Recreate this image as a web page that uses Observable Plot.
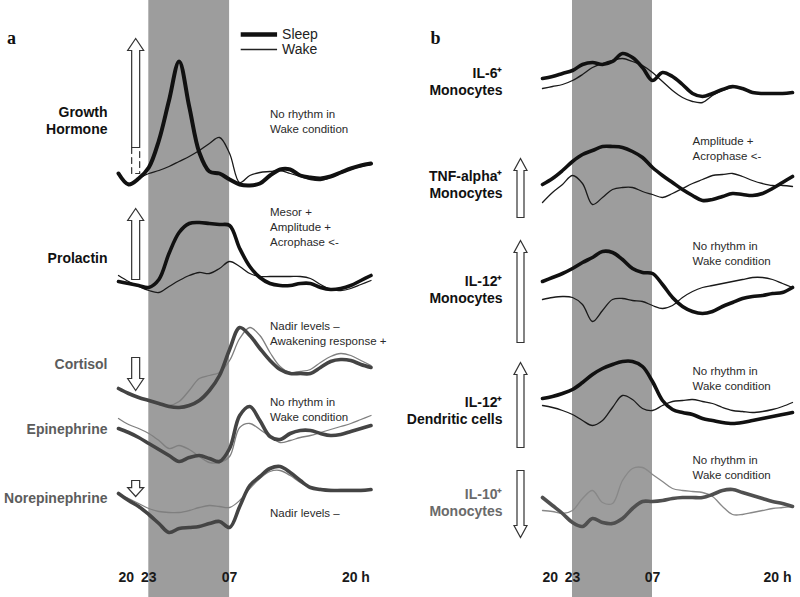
<!DOCTYPE html>
<html><head><meta charset="utf-8">
<script src="https://cdn.jsdelivr.net/npm/d3@7"></script>
<script src="https://cdn.jsdelivr.net/npm/@observablehq/plot@0.6"></script>
<style>
html,body{margin:0;padding:0;background:#fff;}
#wrap{display:flex;width:800px;height:597px;overflow:hidden;}
</style></head><body><div id="wrap"></div>
<script>
// ---- time axis ----
const hours = [20,21,22,23,24,25,26,27,28,29,30,31,32,33,34,35,36,37,38,39,40,41,42,43,44,45];
const tickHours = [20, 23, 31, 44];
const tickLabels = ["20", "23", "07", "20 h"];
const sleepStart = 23, sleepEnd = 31;

// ---- panel a series (arbitrary units above each row's baseline) ----
const ghSleep  = [13, 2, 8, 19, 46, 86, 125, 80, 34, 15, 13, 7, 2, 1, 3, 11, 17, 17, 11, 9, 8, 10, 14, 18, 21, 23];
const ghWake   = [13, 3, 8, 13, 16, 20, 25, 30, 36, 43, 49, 33, 4, 11, 14, 15, 16, 13, 10, 7, 6, 9, 13, 17, 20, 22];
const prlSleep = [13, 11, 9, 7, 15, 41, 62, 71, 72, 71, 70, 69, 46, 28, 17, 11, 9, 9, 11, 11, 7, 5, 6, 9, 14, 19];
const prlWake  = [19, 13, 8, 4, 2, 8, 14, 19, 22, 21, 26, 33, 28, 21, 18, 18, 18, 18, 18, 16, 10, 5, 4, 6, 10, 14];
const cortSleep= [20, 15, 11, 8, 5, 2, 1, 3, 8, 18, 33, 59, 81, 73, 60, 48, 39, 35, 35, 35, 41, 47, 49, 48, 44, 41];
const cortWake = [20, 15, 11, 8, 5, 3, 7, 18, 30, 33, 36, 48, 70, 81, 73, 56, 42, 36, 37, 39, 46, 52, 55, 53, 48, 43];
const epiSleep = [38, 34, 29, 23, 17, 11, 5, 9, 11, 8, 5, 18, 51, 60, 46, 30, 27, 33, 36, 36, 33, 31, 32, 35, 38, 41];
const epiWake  = [48, 42, 38, 33, 26, 18, 21, 17, 10, 4, 4, 10, 39, 43, 37, 30, 24, 26, 29, 31, 34, 37, 40, 43, 47, 51];
const norSleep = [39, 32, 26, 18, 9, 0, 4, 5, 6, 9, 11, 5, 26, 47, 56, 64, 66, 60, 52, 45, 43, 42, 42, 42, 42, 43];
const norWake  = [39, 34, 29, 24, 21, 20, 20, 22, 25, 27, 26, 25, 32, 44, 54, 61, 62, 57, 50, 45, 44, 43, 43, 43, 43, 43];

// ---- panel b series ----
const il6Sleep  = [25, 27, 30, 33, 39, 41, 39, 42, 50, 46, 36, 23, 31, 27, 19, 10, 7, 10, 14, 17, 15, 11, 10, 10, 10, 11];
const il6Wake   = [15, 17, 19, 23, 29, 36, 40, 43, 45, 42, 38, 31, 22, 13, 6, 2, 1, 8, 13, 16, 15, 11, 10, 10, 10, 11];
const tnfSleep  = [21, 27, 35, 44, 51, 55, 59, 59, 58, 54, 48, 38, 30, 23, 16, 10, 5, 6, 9, 12, 11, 10, 12, 17, 23, 29];
const tnfWake   = [3, 13, 21, 30, 22, 1, 8, 16, 18, 18, 14, 11, 8, 12, 17, 22, 26, 30, 31, 32, 29, 25, 22, 20, 20, 19];
const il12mSleep= [42, 46, 50, 55, 61, 66, 72, 71, 64, 55, 51, 50, 39, 26, 17, 12, 10, 12, 17, 21, 25, 27, 28, 30, 31, 36];
const il12mWake = [24, 26, 27, 26, 19, 2, 13, 24, 25, 23, 22, 18, 15, 18, 26, 32, 36, 38, 40, 42, 44, 46, 46, 44, 40, 36];
const il12dSleep= [27, 29, 32, 36, 43, 51, 57, 61, 64, 64, 59, 44, 25, 16, 13, 11, 7, 5, 3, 2, 3, 5, 7, 9, 11, 13];
const il12dWake = [20, 18, 15, 11, 5, 0, 5, 18, 30, 26, 17, 15, 20, 24, 25, 26, 24, 22, 18, 15, 14, 13, 14, 16, 19, 23];
const il10Sleep = [30, 22, 14, 5, 1, 9, 5, 4, 9, 19, 26, 26, 27, 29, 30, 30, 30, 33, 37, 38, 35, 32, 29, 26, 24, 21];
const il10Wake  = [17, 16, 14, 17, 29, 37, 25, 24, 47, 59, 60, 53, 46, 39, 37, 36, 35, 31, 21, 13, 13, 15, 17, 19, 20, 21];

// ---- labels & notes ----
const labelsA = ["Growth\nHormone", "Prolactin", "Cortisol", "Epinephrine", "Norepinephrine"];
const notesA  = ["No rhythm in\nWake condition", "Mesor +\nAmplitude +\nAcrophase <-", "Nadir levels \u2013\nAwakening response +", "No rhythm in\nWake condition", "Nadir levels \u2013"];
const labelsB = ["IL-6\u207A\nMonocytes", "TNF-alpha\u207A\nMonocytes", "IL-12\u207A\nMonocytes", "IL-12\u207A\nDendritic cells", "IL-10\u207A\nMonocytes"];
const notesB  = ["", "Amplitude +\nAcrophase <-", "No rhythm in\nWake condition", "No rhythm in\nWake condition", "No rhythm in\nWake condition"];
const arrowDirA = ["up", "up", "down", null, "down"];
const arrowDirB = [null, "up", "up", "up", "down"];
const legendKeys = ["Sleep", "Wake"];
const panelLetters = ["a", "b"];

// ---- layout (row placement in y units, arrow extents) ----
const rowBaseA = [411, 303, 189, 131, 65];
const rowBaseB = [494, 392, 274, 172, 70];
const labelLevelA = [477.5, 340, 234, 169, 100];
const labelLevelB = [516, 413.5, 308.5, 187.5, 95];
const noteLevelA = [476.5, 371, 264.5, 189, 85];
const noteLevelB = [0, 450, 345, 219.5, 130.5];
const arrowLevelA = [450, 318, 240, 0, 117];
const arrowLenA   = [109, 71, 33, 0, 16];
const arrowLevelB = [0, 380, 255, 150, 127];
const arrowLenB   = [0, 59, 102, 85, 67];

// ---- styles ----
const BAND = "#9d9d9d";
const FONT = "'Liberation Sans', Arial, Helvetica, sans-serif";
const sleepColA = ["#111", "#111", "#444", "#444", "#444"];
const wakeColA  = ["#1a1a1a", "#1a1a1a", "#7f7f7f", "#7f7f7f", "#7f7f7f"];
const labelColA = ["#111", "#111", "#5c5c5c", "#5c5c5c", "#5c5c5c"];
const sleepColB = ["#111", "#111", "#111", "#111", "#505050"];
const wakeColB  = ["#1a1a1a", "#1a1a1a", "#1a1a1a", "#1a1a1a", "#888"];
const labelColB = ["#111", "#111", "#111", "#111", "#6a6a6a"];

function hollowArrow(w, hw, hlMax) {
  return {draw(ctx, l) {
    const hl = Math.min(hlMax, l * 0.55);
    ctx.moveTo(-w, 0);
    ctx.lineTo(-w, -(l - hl));
    ctx.lineTo(-hw, -(l - hl));
    ctx.lineTo(0, -l);
    ctx.lineTo(hw, -(l - hl));
    ctx.lineTo(w, -(l - hl));
    ctx.lineTo(w, 0);
    ctx.closePath();
  }};
}
const openShaft = (w) => ({draw(ctx, l) {
  ctx.moveTo(-w, -l); ctx.lineTo(-w, 0); ctx.lineTo(w, 0); ctx.lineTo(w, -l);
}});

function panel(cfg) {
  const marks = [];
  marks.push(Plot.rect([{x1: sleepStart, x2: sleepEnd}], {x1: "x1", x2: "x2", fill: BAND}));
  cfg.rows.forEach((r, i) => {
    const pts = vals => hours.map((h, j) => ({hour: h, level: r.base + vals[j]}));
    marks.push(Plot.line(pts(r.wake), {x: "hour", y: "level", stroke: r.wakeColor, strokeWidth: 1.3, curve: "catmull-rom"}));
    marks.push(Plot.line(pts(r.sleep), {x: "hour", y: "level", stroke: r.sleepColor, strokeWidth: r.sleepWidth, curve: "catmull-rom", strokeLinejoin: "round"}));
    marks.push(Plot.text([r], {x: () => hours[0], y: "labelLevel", text: "label", textAnchor: "end", lineAnchor: "middle",
      dx: cfg.labelDx, fontSize: 14, fontWeight: "bold", lineHeight: 1.2, fill: r.labelColor}));
    if (r.note) marks.push(Plot.text([r], {x: () => 35, y: "noteLevel", text: "note", textAnchor: "start", lineAnchor: "middle",
      fontSize: 11.5, lineHeight: 1.3, fill: "#2a2a2a"}));
  });
  // arrows
  const arrows = cfg.rows.filter(r => r.dir).map(r => ({hour: cfg.arrowHour, level: r.arrowLevel, len: r.arrowLen, dir: r.dir}));
  marks.push(Plot.vector(arrows, {x: "hour", y: "level", length: "len", rotate: d => d.dir === "up" ? 0 : 180, anchor: "start",
    shape: cfg.arrowShape, fill: "white", stroke: "#333", strokeWidth: 1.2, strokeLinejoin: "miter", strokeLinecap: "butt"}));
  if (cfg.shaft) marks.push(Plot.vector([cfg.shaft], {x: "hour", y: "level", length: "len", anchor: "start",
    shape: openShaft(4), stroke: "#333", strokeWidth: 1.2, strokeDasharray: "6,4", fill: "none"}));
  // ticks
  const ticks = tickHours.map((h, i) => ({hour: h, label: tickLabels[i], i}));
  const tickStyle = {x: "hour", text: "label", frameAnchor: "bottom", dy: -20, lineAnchor: "middle", fontSize: 14, fontWeight: "bold", fill: "#1a1a1a"};
  marks.push(Plot.text(ticks.filter(d => d.i === 0), {...tickStyle, textAnchor: "start"}));
  marks.push(Plot.text(ticks.filter(d => d.i === 1 || d.i === 2), {...tickStyle, textAnchor: "middle"}));
  marks.push(Plot.text(ticks.filter(d => d.i === 3), {...tickStyle, textAnchor: "middle", dx: -5}));
  // panel letter
  marks.push(Plot.text([cfg.letter], {text: d => d, frameAnchor: "top-left", dx: -107, dy: 38, textAnchor: "middle", lineAnchor: "middle",
    fontFamily: "'Liberation Serif', 'Times New Roman', serif", fontWeight: "bold", fontSize: 18, fill: "#111"}));
  // legend
  if (cfg.legend) {
    const lg = legendKeys.map((k, i) => ({key: k, x1: 32.1, x2: 35.7, level: [563, 548][i], w: [4.5, 1.3][i]}));
    marks.push(Plot.link(lg.slice(0, 1), {x1: "x1", x2: "x2", y1: "level", y2: "level", stroke: "#111", strokeWidth: 4.5}));
    marks.push(Plot.link(lg.slice(1), {x1: "x1", x2: "x2", y1: "level", y2: "level", stroke: "#222", strokeWidth: 1.3}));
    marks.push(Plot.text(lg, {x: "x2", y: "level", text: "key", dx: 5, textAnchor: "start", lineAnchor: "middle", fontSize: 14, fill: "#222"}));
  }
  return Plot.plot({
    width: cfg.width, height: 597,
    marginLeft: 118, marginRight: cfg.marginRight, marginTop: 0, marginBottom: 0,
    x: {domain: [20, 45], axis: null},
    y: {domain: [0, 597], axis: null},
    length: {domain: [0, 300], range: [0, 300]},
    style: {fontFamily: FONT, background: "white", overflow: "visible"},
    marks
  });
}

const rowsA = [ghSleep, prlSleep, cortSleep, epiSleep, norSleep].map((s, i) => ({
  sleep: s, wake: [ghWake, prlWake, cortWake, epiWake, norWake][i], base: rowBaseA[i],
  label: labelsA[i], labelLevel: labelLevelA[i], note: notesA[i], noteLevel: noteLevelA[i],
  dir: arrowDirA[i], arrowLevel: arrowLevelA[i], arrowLen: arrowLenA[i],
  sleepColor: sleepColA[i], wakeColor: wakeColA[i], labelColor: labelColA[i], sleepWidth: i === 0 ? 4 : 3.6
}));
const rowsB = [il6Sleep, tnfSleep, il12mSleep, il12dSleep, il10Sleep].map((s, i) => ({
  sleep: s, wake: [il6Wake, tnfWake, il12mWake, il12dWake, il10Wake][i], base: rowBaseB[i],
  label: labelsB[i], labelLevel: labelLevelB[i], note: notesB[i], noteLevel: noteLevelB[i],
  dir: arrowDirB[i], arrowLevel: arrowLevelB[i], arrowLen: arrowLenB[i],
  sleepColor: sleepColB[i], wakeColor: wakeColB[i], labelColor: labelColB[i], sleepWidth: 3.6
}));

const wrap = document.getElementById("wrap");
wrap.appendChild(panel({width: 424, marginRight: 53.5, rows: rowsA, arrowHour: 21.7, arrowShape: hollowArrow(4, 8, 12),
  shaft: {hour: 21.7, level: 424, len: 26}, letter: panelLetters[0], labelDx: -11, legend: true}));
wrap.appendChild(panel({width: 376, marginRight: 8, rows: rowsB, arrowHour: 17.8, arrowShape: hollowArrow(3.5, 6.5, 12),
  shaft: null, letter: panelLetters[1], labelDx: -40, legend: false}));
</script></body></html>
